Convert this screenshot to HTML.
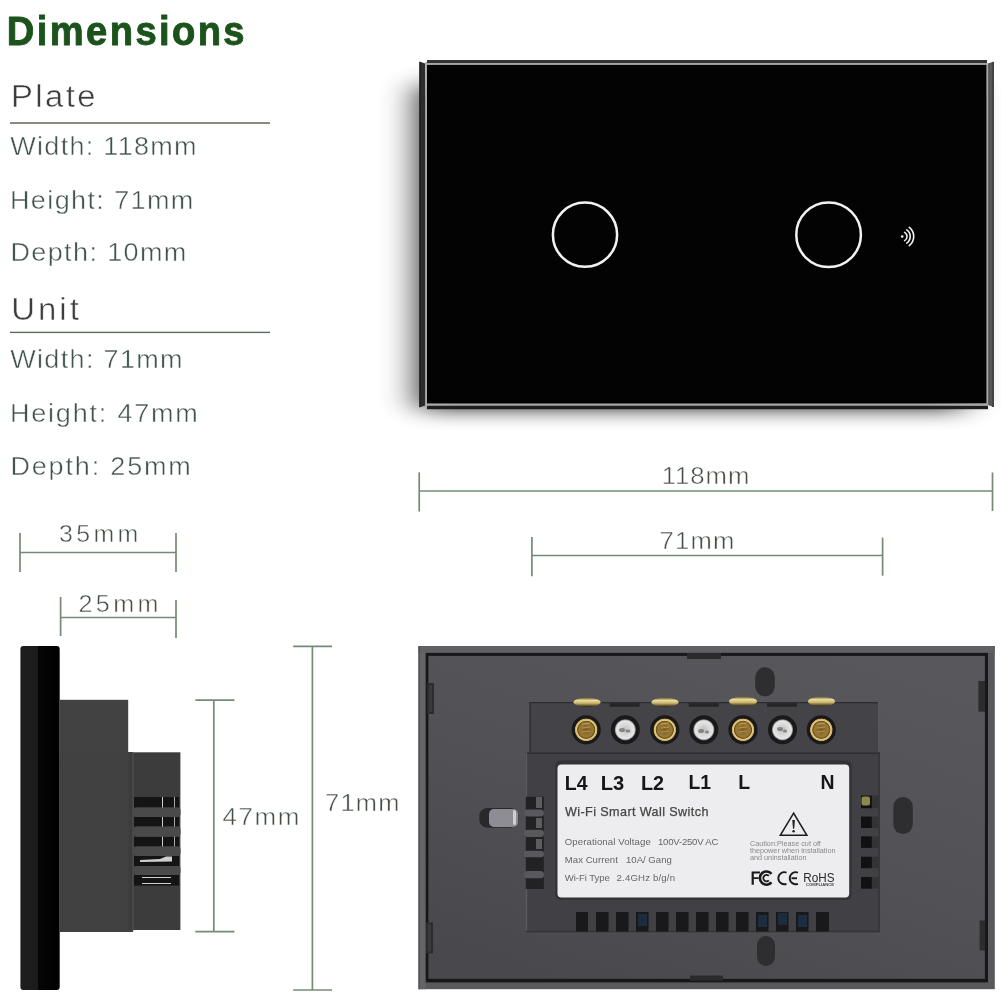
<!DOCTYPE html>
<html><head><meta charset="utf-8">
<style>
html,body{margin:0;padding:0;background:#fff;width:1001px;height:1001px;overflow:hidden}
svg{display:block}
text{font-family:"Liberation Sans",sans-serif}
</style></head>
<body>
<svg width="1001" height="1001" viewBox="0 0 1001 1001">
<defs>
  <filter id="shadowblur" x="-30%" y="-30%" width="160%" height="160%"><feGaussianBlur stdDeviation="18.5 10"/></filter>
  <filter id="soft" x="-50%" y="-50%" width="200%" height="200%"><feGaussianBlur stdDeviation="0.5"/></filter>
  <filter id="soft2" x="-50%" y="-50%" width="200%" height="200%"><feGaussianBlur stdDeviation="1.2"/></filter>
  <radialGradient id="brassIn" cx="50%" cy="50%" r="50%">
    <stop offset="0" stop-color="#7a5c22"/>
    <stop offset="0.6" stop-color="#9c7a38"/>
    <stop offset="0.75" stop-color="#6e5320"/>
    <stop offset="0.82" stop-color="#e3d08e"/>
    <stop offset="0.95" stop-color="#c8aa5a"/>
    <stop offset="1" stop-color="#3a2c10"/>
  </radialGradient>
  <radialGradient id="silverIn" cx="50%" cy="50%" r="50%">
    <stop offset="0" stop-color="#bdbdbd"/>
    <stop offset="0.5" stop-color="#d9d9d9"/>
    <stop offset="0.85" stop-color="#e6e6e6"/>
    <stop offset="1" stop-color="#6a6a6a"/>
  </radialGradient>
  <linearGradient id="brasshead" x1="0" y1="0" x2="0" y2="1">
    <stop offset="0" stop-color="#6f5a24"/>
    <stop offset="0.3" stop-color="#e8dca0"/>
    <stop offset="0.6" stop-color="#c9b46a"/>
    <stop offset="1" stop-color="#2e2410"/>
  </linearGradient>
  <linearGradient id="sideplate" x1="0" y1="0" x2="1" y2="0">
    <stop offset="0" stop-color="#1e1e1e"/>
    <stop offset="0.44" stop-color="#1b1b1b"/>
    <stop offset="0.46" stop-color="#050505"/>
    <stop offset="1" stop-color="#000"/>
  </linearGradient>
  <linearGradient id="rimTop" x1="0" y1="0" x2="0" y2="1">
    <stop offset="0" stop-color="#6a6a6c"/>
    <stop offset="0.3" stop-color="#505053"/>
    <stop offset="1" stop-color="#48484b"/>
  </linearGradient>
  <linearGradient id="panelGrad" x1="0.8" y1="0" x2="0.2" y2="1">
    <stop offset="0" stop-color="#58575c"/>
    <stop offset="0.5" stop-color="#525156"/>
    <stop offset="1" stop-color="#49484d"/>
  </linearGradient>
</defs>

<!-- section lines -->
<rect x="10" y="122" width="260" height="2" fill="#848c84"/>
<rect x="10" y="331.7" width="260" height="1.4" fill="#5e6b5f"/>

<!-- ===== DIMENSION LINES ===== -->
<g stroke="#748a76" stroke-width="1.7" fill="none">
  <!-- 35mm -->
  <line x1="20" y1="533" x2="20" y2="572"/>
  <line x1="176" y1="533" x2="176" y2="572"/>
  <line x1="20" y1="552.5" x2="176" y2="552.5"/>
  <!-- 25mm -->
  <line x1="60.6" y1="597" x2="60.6" y2="636"/>
  <line x1="176" y1="600" x2="176" y2="638"/>
  <line x1="60.6" y1="617.5" x2="176" y2="617.5"/>
  <!-- 118mm -->
  <line x1="419.2" y1="472.4" x2="419.2" y2="511.5"/>
  <line x1="992.5" y1="472.5" x2="992.5" y2="511"/>
  <line x1="419.2" y1="491" x2="992.5" y2="491"/>
  <!-- 71mm horizontal -->
  <line x1="531.9" y1="537" x2="531.9" y2="576.3"/>
  <line x1="882.6" y1="537.6" x2="882.6" y2="575.7"/>
  <line x1="531.9" y1="555.5" x2="882.6" y2="555.5"/>
  <!-- 47mm vertical -->
  <line x1="213.8" y1="700.2" x2="213.8" y2="931.6"/>
  <line x1="195.3" y1="700.2" x2="234.5" y2="700.2"/>
  <line x1="195.3" y1="931.6" x2="234.5" y2="931.6"/>
  <!-- 71mm vertical -->
  <line x1="312.4" y1="646.3" x2="312.4" y2="990"/>
  <line x1="293.2" y1="646.3" x2="332" y2="646.3"/>
  <line x1="293.2" y1="990" x2="332" y2="990"/>
</g>

<!-- ===== FRONT PLATE ===== -->
<g id="front">
  <rect x="419" y="85" width="545" height="324" fill="#000" opacity="0.87" filter="url(#shadowblur)"/>
  <!-- left side strip -->
  <polygon points="419.4,61.4 425.2,63.6 425.2,405.5 419.4,407.5" fill="#2c2c2c"/>
  <rect x="419.4" y="62" width="1.2" height="345" fill="#1c1c1c"/>
  <rect x="425.2" y="62" width="1.8" height="345" fill="#aaaaaa"/>
  <!-- top strip -->
  <rect x="427" y="60" width="560" height="3.2" fill="#333"/>
  <rect x="427" y="63.2" width="560" height="1.8" fill="#9a9a9a"/>
  <!-- right strip -->
  <polygon points="988,63.5 993.8,61.5 993.8,407 988,405" fill="#575757"/>
  <rect x="986.5" y="63" width="1.6" height="343" fill="#ababab"/>
  <rect x="992" y="62" width="2" height="345" fill="#444"/>
  <!-- face -->
  <rect x="427" y="65" width="559.5" height="338.6" fill="#030303"/>
  <!-- bottom strip -->
  <rect x="427" y="403.6" width="560" height="2.2" fill="#a8a8a8"/>
  <rect x="427" y="405.8" width="561" height="3.4" fill="#1e1e1e"/>
  <!-- buttons -->
  <circle cx="585" cy="234.7" r="32.1" fill="none" stroke="#f2f2f2" stroke-width="2.5"/>
  <circle cx="828.6" cy="234.8" r="32.3" fill="none" stroke="#f2f2f2" stroke-width="2.5"/>
  <!-- wifi icon -->
  <g fill="none" stroke="#f2f2f2" stroke-width="1.6" stroke-linecap="round">
    <circle cx="902.2" cy="236.5" r="1.3" fill="#f2f2f2" stroke="none"/>
    <path d="M904.60 232.34 A4.8 4.8 0 0 1 904.60 240.66"/>
    <path d="M906.79 229.95 A8.0 8.0 0 0 1 906.79 243.05"/>
    <path d="M909.28 227.44 A11.5 11.5 0 0 1 909.28 245.56"/>
  </g>
</g>

<!-- ===== SIDE VIEW ===== -->
<g id="side">
  <rect x="20.4" y="646" width="39.3" height="344" rx="3" fill="url(#sideplate)"/>
  <!-- body box 1 -->
  <rect x="59.7" y="699.8" width="68.5" height="232" fill="#424242"/>
  <rect x="59.7" y="752" width="73.3" height="180" fill="#414141"/>
  <!-- body box 2 -->
  <rect x="128.6" y="752.3" width="51.8" height="177.7" fill="#3c3c3c"/>
  <line x1="133" y1="752.3" x2="133" y2="931" stroke="#5a5a5a" stroke-width="0.8"/>
  <!-- vent slots -->
  <g fill="#141414">
    <rect x="134" y="797" width="45" height="10.5"/>
    <rect x="134" y="817" width="45" height="9.6"/>
    <rect x="134" y="836.7" width="45" height="9.7"/>
    <rect x="134" y="856" width="45" height="10"/>
    <rect x="134" y="875" width="45" height="10.6"/>
  </g>
  <g fill="#4a4a4a">
    <rect x="134" y="807.5" width="46.5" height="9.5" rx="3"/>
    <rect x="134" y="826.6" width="46.5" height="10.1" rx="3"/>
    <rect x="134" y="846.4" width="46.5" height="9.6" rx="3"/>
    <rect x="134" y="866" width="46.5" height="9" rx="3"/>
  </g>
  <g fill="#cfcfcf">
    <rect x="162" y="797" width="1" height="10.5"/>
    <rect x="162" y="817" width="1" height="9.6"/>
    <rect x="162" y="836.7" width="1" height="9.7"/>
    <rect x="174" y="797" width="0.8" height="10.5"/>
    <rect x="174" y="817" width="0.8" height="9.6"/>
    <rect x="174" y="836.7" width="0.8" height="9.7"/>
    <polygon points="140,860 160,859 166,856.5 172,856.5 172,861.5 140,862"/>
    <rect x="142" y="877" width="29" height="1"/>
    <rect x="142" y="883" width="29" height="1"/>
  </g>
</g>

<!-- ===== BACK VIEW ===== -->
<g id="back" opacity="0.995">
  <rect x="418.6" y="646" width="576.2" height="343.2" fill="#59585c"/>
  <rect x="418.6" y="646" width="7.1" height="343.2" fill="#646367"/>
  <rect x="418.6" y="646" width="576.2" height="6.9" fill="#616064"/>
  <rect x="418.6" y="646" width="1" height="343.2" fill="#4a4a4c"/>
  <rect x="425.7" y="652.9" width="562.3" height="329.5" fill="#17171a"/>
  <rect x="428.4" y="655.9" width="556.5" height="322.9" fill="url(#panelGrad)"/>
  <!-- notches -->
  <rect x="687" y="653" width="34" height="6" fill="#2a2a2c"/>
  <rect x="690" y="975.6" width="33" height="5" fill="#2a2a2c"/>
  <!-- side clips -->
  <rect x="427" y="683" width="7" height="31" fill="#2c2c2e"/>
  <rect x="429" y="685" width="3" height="27" fill="#3a3a3c"/>
  <rect x="426" y="922.4" width="7" height="31" fill="#2c2c2e"/>
  <rect x="428" y="924.4" width="3" height="27" fill="#3a3a3c"/>
  <rect x="978.4" y="681" width="6.6" height="30.6" fill="#2c2c2e"/>
  <rect x="979.6" y="920.5" width="5.4" height="30" fill="#2c2c2e"/>
  <!-- ovals -->
  <rect x="755.2" y="667.3" width="19.6" height="29" rx="9.8" fill="#2e2e31"/>
  <rect x="757" y="936" width="18" height="30" rx="9" fill="#2e2e31"/>
  <rect x="893.3" y="797" width="19.5" height="37" rx="9.7" fill="#2e2e31"/>
  <!-- top block -->
  <rect x="529.5" y="702" width="348.5" height="51" fill="#444348"/>
  <rect x="529.5" y="702" width="348.5" height="1.2" fill="#2c2c2e"/>
  <rect x="529.5" y="702" width="1.2" height="51" fill="#2c2c2e"/>
  <g fill="#262628">
    <rect x="609.6" y="703.2" width="30" height="3.6"/>
    <rect x="688.7" y="703.2" width="30" height="3.6"/>
    <rect x="767" y="703.2" width="30" height="3.6"/>
  </g>
  <!-- lower block -->
  <rect x="525.8" y="752.5" width="354" height="179.5" fill="#414045"/>
  <rect x="525.8" y="752.5" width="354" height="1.5" fill="#2e2e30"/>
  <rect x="525.8" y="752.5" width="1.3" height="179.5" fill="#5e5d62"/>
  <rect x="878.5" y="752.5" width="1.3" height="179.5" fill="#333336"/>
  <rect x="525.8" y="930.8" width="354" height="1.5" fill="#353538"/>
  <!-- recess above label -->
  <rect x="555.3" y="760.6" width="296.3" height="139.2" rx="5" fill="#333336"/>
  <!-- left button -->
  <rect x="479.3" y="808" width="39" height="19.7" rx="8" fill="#29292b"/>
  <rect x="489" y="809" width="29" height="18" rx="5" fill="#8e8d93"/>
  <rect x="513" y="810" width="3" height="15" rx="1.5" fill="#d0d0d4"/>
  <!-- left vent comb -->
  <rect x="525.8" y="796.8" width="18" height="92.2" fill="#222224"/>
  <g fill="#59585d">
    <rect x="524" y="809.4" width="20" height="7.2" rx="3.5"/>
    <rect x="524" y="829.8" width="20" height="7.2" rx="3.5"/>
    <rect x="524" y="850.7" width="20" height="6.6" rx="3.3"/>
    <rect x="524" y="871" width="20" height="7.3" rx="3.5"/>
  </g>
  <g fill="#5d5c61">
    <rect x="536" y="797" width="6" height="11"/>
    <rect x="536" y="818" width="6" height="10"/>
    <rect x="536" y="839" width="6" height="10"/>
  </g>
  <!-- right vents -->
  <g fill="#333336">
    <rect x="861" y="795.6" width="17.4" height="12.6"/>
    <rect x="861" y="816.6" width="17.4" height="11.4"/>
    <rect x="861" y="836.4" width="17.4" height="11.4"/>
    <rect x="861" y="856.8" width="17.4" height="11.4"/>
    <rect x="861" y="877" width="17.4" height="11.6"/>
  </g>
  <g fill="#111113">
    <rect x="861" y="795.6" width="10.8" height="12.6"/>
    <rect x="861" y="816.6" width="10.8" height="11.4"/>
    <rect x="861" y="836.4" width="10.8" height="11.4"/>
    <rect x="861" y="856.8" width="10.8" height="11.4"/>
    <rect x="861" y="877" width="10.8" height="11.6"/>
  </g>
  <rect x="861.5" y="796.5" width="8.5" height="9" rx="2" fill="#8c8a4c"/>
  <!-- bottom vents -->
  <g fill="#19191b">
    <rect x="576" y="912" width="12" height="19.6"/>
    <rect x="596" y="912" width="12.5" height="19.6"/>
    <rect x="616" y="912" width="12.5" height="19.6"/>
    <rect x="636" y="912" width="12.5" height="19.6"/>
    <rect x="656" y="912" width="12.5" height="19.6"/>
    <rect x="676" y="912" width="12.5" height="19.6"/>
    <rect x="696" y="912" width="12.5" height="19.6"/>
    <rect x="716" y="912" width="12.5" height="19.6"/>
    <rect x="736" y="912" width="12.5" height="19.6"/>
    <rect x="756" y="912" width="12.5" height="19.6"/>
    <rect x="776" y="912" width="12.5" height="19.6"/>
    <rect x="796" y="912" width="12.5" height="19.6"/>
    <rect x="816" y="912" width="13" height="19.6"/>
  </g>
  <g fill="#1d3348" opacity="0.8">
    <rect x="758" y="915" width="9" height="12"/>
    <rect x="778" y="913" width="9" height="12"/>
    <rect x="798" y="915" width="9" height="12"/>
    <rect x="638" y="914" width="9" height="12"/>
  </g>
  <!-- terminals -->
  <g>
    <circle cx="586.2" cy="729.8" r="14.6" fill="#19191a"/>
    <circle cx="586.2" cy="729.8" r="11.5" fill="url(#brassIn)"/>
    <circle cx="625.3" cy="729.8" r="14.5" fill="#19191a"/>
    <circle cx="625.3" cy="729.8" r="10.6" fill="url(#silverIn)"/>
    <circle cx="664.8" cy="729.8" r="14.6" fill="#19191a"/>
    <circle cx="664.8" cy="729.8" r="11.5" fill="url(#brassIn)"/>
    <circle cx="703.8" cy="729.8" r="14.5" fill="#19191a"/>
    <circle cx="703.8" cy="729.8" r="10.6" fill="url(#silverIn)"/>
    <circle cx="743" cy="729.8" r="14.6" fill="#19191a"/>
    <circle cx="743" cy="729.8" r="11.5" fill="url(#brassIn)"/>
    <circle cx="782.5" cy="729.8" r="14.5" fill="#19191a"/>
    <circle cx="782.5" cy="729.8" r="10.6" fill="url(#silverIn)"/>
    <circle cx="821.3" cy="729.8" r="14.6" fill="#19191a"/>
    <circle cx="821.3" cy="729.8" r="11.5" fill="url(#brassIn)"/>
  </g>
  <g stroke="#c9ac60" stroke-width="1" opacity="0.7">
    <line x1="582" y1="724" x2="590" y2="723"/><line x1="582" y1="728" x2="590" y2="727"/><line x1="582" y1="732" x2="590" y2="731"/>
    <line x1="661" y1="724" x2="669" y2="723"/><line x1="661" y1="728" x2="669" y2="727"/><line x1="661" y1="732" x2="669" y2="731"/>
    <line x1="739" y1="724" x2="747" y2="723"/><line x1="739" y1="728" x2="747" y2="727"/><line x1="739" y1="732" x2="747" y2="731"/>
    <line x1="817" y1="724" x2="825" y2="723"/><line x1="817" y1="728" x2="825" y2="727"/><line x1="817" y1="732" x2="825" y2="731"/>
  </g>
  <g fill="#555" opacity="0.6">
    <ellipse cx="622" cy="730" rx="3" ry="2"/><ellipse cx="628" cy="731" rx="2.5" ry="1.5"/>
    <ellipse cx="701" cy="731" rx="3" ry="2"/><ellipse cx="707" cy="732" rx="2" ry="1.5"/>
    <ellipse cx="780" cy="729" rx="3" ry="2"/><ellipse cx="785" cy="731" rx="2" ry="1.5"/>
  </g>
  <g fill="url(#brasshead)">
    <ellipse cx="587" cy="702.3" rx="13.5" ry="4.6"/>
    <ellipse cx="665" cy="702.3" rx="13.5" ry="4.6"/>
    <ellipse cx="743" cy="701.5" rx="14" ry="4.8"/>
    <ellipse cx="821.5" cy="701.5" rx="13.5" ry="4.8"/>
  </g>
  <!-- label -->
  <rect x="557.5" y="764.5" width="291.7" height="133" rx="4" fill="#ededf0"/>
  <g fill="#161616" font-weight="bold" font-size="19.4" font-family="Liberation Sans, sans-serif">
    <text x="564.8" y="789.6" textLength="22.7" lengthAdjust="spacingAndGlyphs">L4</text>
    <text x="600.8" y="789.6" textLength="23.5" lengthAdjust="spacingAndGlyphs">L3</text>
    <text x="641" y="789.6" textLength="23.1" lengthAdjust="spacingAndGlyphs">L2</text>
    <text x="688.5" y="789.2" textLength="22.5" lengthAdjust="spacingAndGlyphs">L1</text>
    <text x="738.3" y="789.2">L</text>
    <text x="820.5" y="789.2">N</text>
  </g>
  <text x="565" y="816.3" font-size="12.6" fill="#454545" stroke="#454545" stroke-width="0.25" textLength="143.4" lengthAdjust="spacing" font-family="Liberation Sans, sans-serif">Wi-Fi Smart Wall Switch</text>
  <g fill="#666" font-size="9.6" font-family="Liberation Sans, sans-serif">
    <text x="564.8" y="845.2" textLength="86" lengthAdjust="spacing">Operational Voltage</text>
    <text x="658" y="845.2" textLength="60.4" lengthAdjust="spacing">100V-250V AC</text>
    <text x="564.8" y="862.9" textLength="53" lengthAdjust="spacing">Max Current</text>
    <text x="626" y="862.9" textLength="45.8" lengthAdjust="spacing">10A/ Gang</text>
    <text x="564.8" y="880.9" textLength="45" lengthAdjust="spacing">Wi-Fi Type</text>
    <text x="616.6" y="880.9" textLength="58.4" lengthAdjust="spacing">2.4GHz b/g/n</text>
  </g>
  <g fill="#8a8a8e" font-size="7.2" font-family="Liberation Sans, sans-serif">
    <text x="749.9" y="845.7" textLength="71" lengthAdjust="spacingAndGlyphs">Caution:Please cut off</text>
    <text x="749.9" y="852.8" textLength="85.7" lengthAdjust="spacingAndGlyphs">thepower when installation</text>
    <text x="749.9" y="860" textLength="56.6" lengthAdjust="spacingAndGlyphs">and uninstallation</text>
  </g>
  <!-- warning triangle -->
  <polygon points="793.6,813.2 806.8,835.2 780.4,835.2" fill="none" stroke="#1c1c1c" stroke-width="1.6" stroke-linejoin="miter"/>
  <path d="M792.3 820 L794.9 820 L794.2 828.8 L793 828.8 Z" fill="#1c1c1c"/>
  <circle cx="793.6" cy="831.2" r="1.2" fill="#1c1c1c"/>
  <!-- FC -->
  <g fill="#1a1a1a">
    <path d="M751.6 871.6 H760 V873.6 H753.8 V877.2 H758.6 V879.1 H753.8 V884.7 H751.6 Z"/>
  </g>
  <g fill="none" stroke="#1a1a1a">
    <path d="M771.5 873.8 A6.6 6.6 0 1 0 771.5 882.4" stroke-width="2.6"/>
    <path d="M768.8 875.9 A3.2 3.2 0 1 0 768.8 880.3" stroke-width="1.8"/>
  </g>
  <!-- CE -->
  <g fill="none" stroke="#1a1a1a" stroke-width="1.9">
    <path d="M786.5 872.6 A6 6 0 1 0 786.5 883.8"/>
    <path d="M797.9 872.6 A6 6 0 1 0 797.9 883.8"/>
  </g>
  <rect x="791.5" y="877.3" width="5.5" height="1.9" fill="#1a1a1a"/>
  <!-- RoHS -->
  <text x="803.3" y="882" font-size="13" fill="#2a2a2a" textLength="31.2" lengthAdjust="spacingAndGlyphs" font-family="Liberation Sans, sans-serif">RoHS</text>
  <text x="806" y="886.3" font-size="3.6" fill="#444" font-weight="bold" textLength="28" lengthAdjust="spacingAndGlyphs" font-family="Liberation Sans, sans-serif">COMPLIANCE</text>
</g>

<g id="texts" opacity="0.995">
<text transform="translate(6.84 45.10) scale(0.95 1)" font-size="40.20" font-weight="bold" fill="#1b521b" textLength="250.27" lengthAdjust="spacing" stroke="#1b521b" stroke-width="0.9" stroke-linejoin="round">Dimensions</text>
<text transform="translate(11.00 106.50) scale(1.06 1)" font-size="31.00" font-weight="normal" fill="#3c3c3c" textLength="79.72" lengthAdjust="spacing" stroke="#fff" stroke-width="0.45">Plate</text>
<text transform="translate(10.24 154.50) scale(1.06 1)" font-size="25.50" font-weight="normal" fill="#40534a" textLength="175.85" lengthAdjust="spacing" stroke="#fff" stroke-width="0.45">Width: 118mm</text>
<text transform="translate(9.96 208.60) scale(1.06 1)" font-size="25.50" font-weight="normal" fill="#40534a" textLength="173.02" lengthAdjust="spacing" stroke="#fff" stroke-width="0.45">Height: 71mm</text>
<text transform="translate(10.44 261.40) scale(1.06 1)" font-size="25.50" font-weight="normal" fill="#40534a" textLength="165.96" lengthAdjust="spacing" stroke="#fff" stroke-width="0.45">Depth: 10mm</text>
<text transform="translate(11.32 319.70) scale(1.06 1)" font-size="31.00" font-weight="normal" fill="#3c3c3c" textLength="63.68" lengthAdjust="spacing" stroke="#fff" stroke-width="0.45">Unit</text>
<text transform="translate(10.20 367.60) scale(1.06 1)" font-size="25.50" font-weight="normal" fill="#40534a" textLength="162.68" lengthAdjust="spacing" stroke="#fff" stroke-width="0.45">Width: 71mm</text>
<text transform="translate(9.96 421.50) scale(1.06 1)" font-size="25.50" font-weight="normal" fill="#40534a" textLength="177.28" lengthAdjust="spacing" stroke="#fff" stroke-width="0.45">Height: 47mm</text>
<text transform="translate(10.44 474.50) scale(1.06 1)" font-size="25.50" font-weight="normal" fill="#40534a" textLength="170.23" lengthAdjust="spacing" stroke="#fff" stroke-width="0.45">Depth: 25mm</text>
<text transform="translate(59.08 542.00) scale(1.06 1)" font-size="23.50" font-weight="normal" fill="#434e45" textLength="74.79" lengthAdjust="spacing" stroke="#fff" stroke-width="0.45">35mm</text>
<text transform="translate(78.52 611.80) scale(1.06 1)" font-size="23.70" font-weight="normal" fill="#434e45" textLength="75.34" lengthAdjust="spacing" stroke="#fff" stroke-width="0.45">25mm</text>
<text transform="translate(661.64 484.30) scale(1.06 1)" font-size="24.30" font-weight="normal" fill="#434e45" textLength="82.87" lengthAdjust="spacing" stroke="#fff" stroke-width="0.45">118mm</text>
<text transform="translate(659.50 549.30) scale(1.06 1)" font-size="24.20" font-weight="normal" fill="#434e45" textLength="70.68" lengthAdjust="spacing" stroke="#fff" stroke-width="0.45">71mm</text>
<text transform="translate(222.42 824.80) scale(1.06 1)" font-size="24.50" font-weight="normal" fill="#434e45" textLength="72.60" lengthAdjust="spacing" stroke="#fff" stroke-width="0.45">47mm</text>
<text transform="translate(325.10 810.60) scale(1.06 1)" font-size="24.00" font-weight="normal" fill="#434e45" textLength="70.17" lengthAdjust="spacing" stroke="#fff" stroke-width="0.45">71mm</text>
</g>
</svg>
</body></html>
